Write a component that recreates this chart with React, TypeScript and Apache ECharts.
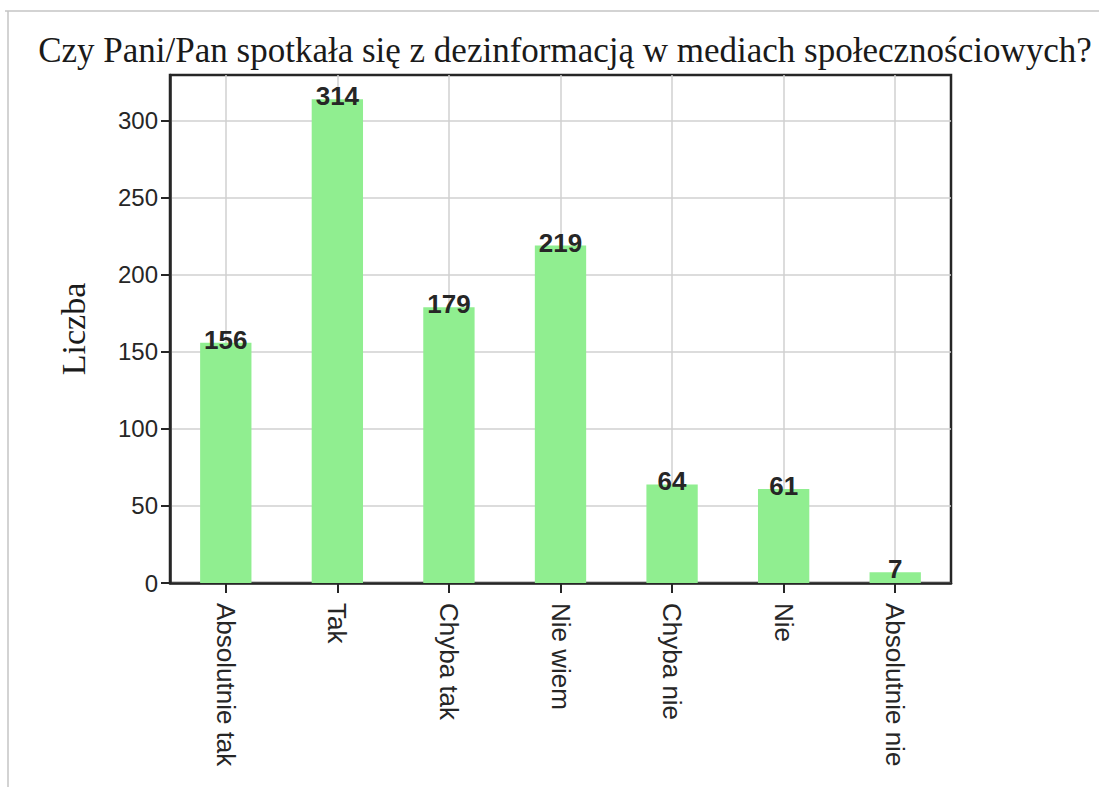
import React, { useEffect, useRef } from "react";
import * as echarts from "echarts";

const TITLE = "Czy Pani/Pan spotkała się z dezinformacją w mediach społecznościowych?";
const Y_NAME = "Liczba";
const categories = ["Absolutnie tak", "Tak", "Chyba tak", "Nie wiem", "Chyba nie", "Nie", "Absolutnie nie"];
const counts = [156, 314, 179, 219, 64, 61, 7];
const yTicks = [0, 50, 100, 150, 200, 250, 300];
const Y_MAX = 329.7;

export default function App() {
  const ref = useRef<HTMLDivElement>(null);
  useEffect(() => {
    if (!ref.current) return;
    const chart = echarts.init(ref.current, undefined, { renderer: "svg" });
    chart.setOption({
      animation: false,
      backgroundColor: "#ffffff",
      title: {
        text: TITLE,
        left: 560,
        top: 28,
        textAlign: "center",
        textStyle: { fontFamily: "Liberation Serif", fontSize: 35, fontWeight: "normal", color: "#1a1a1a" },
      },
      graphic: [
        { type: "line", shape: { x1: 5, y1: 11, x2: 1099, y2: 11 }, style: { stroke: "#c4c4c4", lineWidth: 1.5 } },
        { type: "line", shape: { x1: 8, y1: 11, x2: 8, y2: 787 }, style: { stroke: "#c4c4c4", lineWidth: 1.5 } },
      ],
      grid: {
        left: 170,
        right: 148,
        top: 75,
        bottom: 204,
        show: true,
        borderColor: "#262626",
        borderWidth: 2.5,
        backgroundColor: "transparent",
      },
      xAxis: {
        type: "category",
        data: categories,
        axisLine: { show: true, lineStyle: { color: "#262626", width: 2.5 } },
        axisTick: { show: true, alignWithLabel: true, length: 10, lineStyle: { color: "#262626", width: 2 } },
        splitLine: { show: true, alignWithLabel: true, lineStyle: { color: "#d0d0d0", width: 1.5 } },
        axisLabel: {
          rotate: -90,
          interval: 0,
          margin: 20,
          fontFamily: "Liberation Sans",
          fontSize: 26,
          color: "#262626",
        },
      },
      yAxis: {
        type: "value",
        min: 0,
        max: Y_MAX,
        interval: 50,
        name: Y_NAME,
        nameLocation: "middle",
        nameGap: 80,
        nameTextStyle: { fontFamily: "Liberation Serif", fontSize: 34, color: "#1a1a1a" },
        axisLine: { show: true, lineStyle: { color: "#262626", width: 2.5 } },
        axisTick: { show: true, length: 9, lineStyle: { color: "#262626", width: 2 }, customValues: yTicks },
        splitLine: { show: true, lineStyle: { color: "#d0d0d0", width: 1.5 } },
        axisLabel: {
          customValues: yTicks,
          margin: 12,
          fontFamily: "Liberation Sans",
          fontSize: 24,
          color: "#262626",
        },
      },
      series: [
        {
          type: "bar",
          data: counts,
          barWidth: "46%",
          itemStyle: { color: "#90EE90" },
          label: {
            show: true,
            position: "top",
            distance: -10,
            fontFamily: "Liberation Sans",
            fontWeight: "bold",
            fontSize: 26,
            color: "#262626",
          },
        },
      ],
    });
    return () => chart.dispose();
  }, []);
  return <div ref={ref} style={{ position: "fixed", left: 0, top: 0, width: 1099, height: 787 }} />;
}
